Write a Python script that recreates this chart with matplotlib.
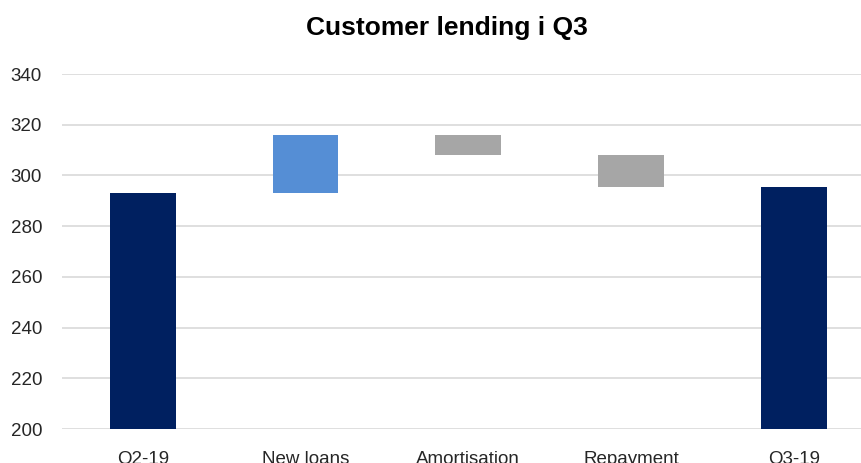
import matplotlib
matplotlib.use("Agg")
import matplotlib.pyplot as plt

categories = ["Q2-19", "New loans", "Amortisation", "Repayment", "Q3-19"]
changes = [293.1, 22.9, -8.0, -12.6, 295.4]
kinds = ["total", "up", "down", "down", "total"]
yticks = [200, 220, 240, 260, 280, 300, 320, 340]

colors = {"total": "#002060", "up": "#558ED5", "down": "#A6A6A6"}

plt.rcParams['font.family'] = ['Liberation Sans', 'DejaVu Sans']

fig = plt.figure(figsize=(8.61, 4.63), dpi=100)
ax = fig.add_axes([61.5/861, 34/463, 813.5/861, 355/463])

bottoms, heights, cols = [], [], []
running = 0
for c, k in zip(changes, kinds):
    if k == "total":
        bottoms.append(0)
        heights.append(c)
        running = c
    else:
        start = running
        running = running + c
        bottoms.append(min(start, running))
        heights.append(abs(c))
    cols.append(colors[k])

x = list(range(len(categories)))
ax.bar(x, heights, bottom=bottoms, width=0.405, color=cols, zorder=3)

ax.set_ylim(200, 340)
ax.set_xlim(-0.5, len(categories) - 0.5)
ax.set_yticks(yticks)
ax.set_xticks(x)
ax.set_xticklabels(categories, fontsize=13.5)
ax.tick_params(axis='y', labelsize=13.5, length=0, pad=14, colors='#262626')
ax.tick_params(axis='x', length=0, pad=16, colors='#262626')
ax.grid(axis='y', color='#D9D9D9', linewidth=1.2, zorder=0)
for s in ax.spines.values():
    s.set_visible(False)

fig.text(447/861, 1 - 28/463, "Customer lending i Q3", ha='center', va='center',
         fontsize=19, fontweight='bold', color='black')

fig.savefig("out.png", dpi=100)
